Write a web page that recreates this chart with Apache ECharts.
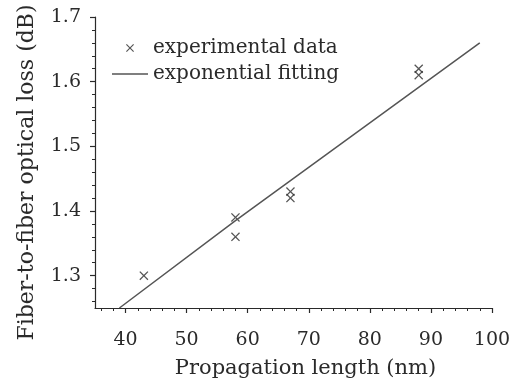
<!DOCTYPE html>
<html>
<head>
<meta charset="utf-8">
<script src="https://cdn.jsdelivr.net/npm/echarts@6/dist/echarts.min.js"></script>
<style>
  html, body { margin: 0; padding: 0; background: #fff; }
  #chart { width: 520px; height: 380px; }
</style>
</head>
<body>
<div id="chart"></div>
<script>
// measured points
const expData = [
  [43, 1.30],
  [58, 1.39], [58, 1.36],
  [67, 1.43], [67, 1.42],
  [88, 1.62], [88, 1.61]
]
// fitted curve
const fitData = [[39, 1.25], [58, 1.385], [98, 1.66]]

const xMajor = [40, 50, 60, 70, 80, 90, 100]
const xMinor = [36, 38, 42, 44, 46, 48, 52, 54, 56, 58, 62, 64, 66, 68, 72, 74, 76, 78, 82, 84, 86, 88, 92, 94, 96, 98]
const yMajor = [1.3, 1.4, 1.5, 1.6, 1.7]
const yMinor = [1.26, 1.28, 1.32, 1.34, 1.36, 1.38, 1.42, 1.44, 1.46, 1.48, 1.52, 1.54, 1.56, 1.58, 1.62, 1.64, 1.66, 1.68]

const font = 'DejaVu Serif'
const ink = '#2a2a2a'
const cross = 'path://M0,1L1,0L5,4L9,0L10,1L6,5L10,9L9,10L5,6L1,10L0,9L4,5Z'
const dash = 'path://M0,0L36,0L36,1.5L0,1.5Z'

const chart = echarts.init(document.getElementById('chart'))

const baseX = { type: 'value', min: 35, max: 100, position: 'bottom', splitLine: { show: false } }
const baseY = { type: 'value', min: 1.25, max: 1.7, position: 'left', splitLine: { show: false } }

chart.setOption({
  animation: false,
  backgroundColor: '#fff',
  textStyle: { fontFamily: font, color: ink },
  grid: { left: 95, right: 28, top: 17, bottom: 72, outerBoundsMode: 'none', containLabel: false },
  legend: {
    orient: 'vertical',
    left: 107,
    top: 33,
    itemWidth: 36,
    itemHeight: 8,
    itemGap: 6,
    textStyle: { fontFamily: font, fontSize: 20, color: ink },
    data: [
      { name: 'experimental data', icon: cross },
      { name: 'exponential fitting', icon: dash }
    ]
  },
  xAxis: [
    {
      ...baseX,
      name: 'Propagation length (nm)',
      nameLocation: 'middle',
      nameGap: 50,
      nameTextStyle: { fontFamily: font, fontSize: 21, color: ink, padding: [0, 0, 0, 24] },
      axisLine: { show: true, lineStyle: { color: ink, width: 1.2 } },
      axisTick: { show: true, length: 5, customValues: xMajor, lineStyle: { color: ink, width: 1.2 } },
      axisLabel: { customValues: xMajor, fontFamily: font, fontSize: 19, color: ink, margin: 23 }
    },
    {
      ...baseX,
      axisLine: { show: false },
      axisTick: { show: true, length: 3, customValues: xMinor, lineStyle: { color: ink, width: 1 } },
      axisLabel: { show: false }
    }
  ],
  yAxis: [
    {
      ...baseY,
      name: 'Fiber-to-fiber optical loss (dB)',
      nameLocation: 'middle',
      nameGap: 57,
      nameTextStyle: { fontFamily: font, fontSize: 22, color: ink, padding: [0, 20, 0, 0] },
      axisLine: { show: true, lineStyle: { color: ink, width: 1.2 } },
      axisTick: { show: true, length: 5, customValues: yMajor, lineStyle: { color: ink, width: 1.2 } },
      axisLabel: { customValues: yMajor, fontFamily: font, fontSize: 19, color: ink, margin: 14, formatter: v => v.toFixed(1) }
    },
    {
      ...baseY,
      axisLine: { show: false },
      axisTick: { show: true, length: 3, customValues: yMinor, lineStyle: { color: ink, width: 1 } },
      axisLabel: { show: false }
    }
  ],
  series: [
    {
      name: 'experimental data',
      type: 'scatter',
      symbol: cross,
      symbolSize: 9,
      itemStyle: { color: ink },
      data: expData
    },
    {
      name: 'exponential fitting',
      type: 'line',
      symbol: 'none',
      lineStyle: { color: '#555', width: 1.5 },
      itemStyle: { color: '#555' },
      data: fitData
    }
  ]
})
</script>
</body>
</html>
